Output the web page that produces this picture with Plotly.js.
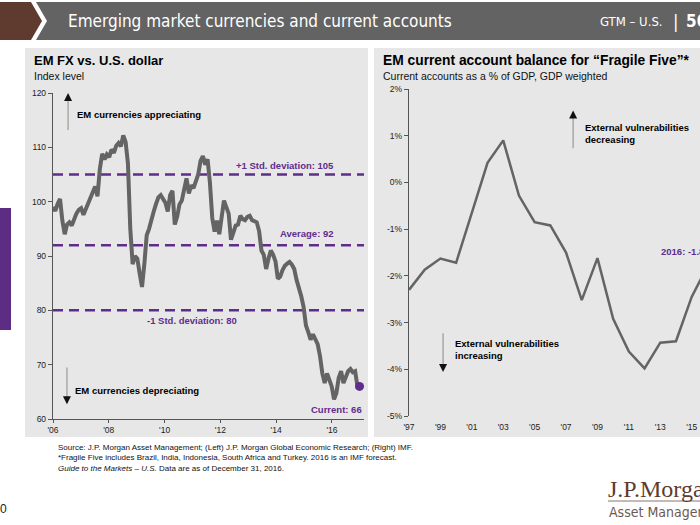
<!DOCTYPE html>
<html>
<head>
<meta charset="utf-8">
<script src="https://cdn.plot.ly/plotly-3.0.1.min.js"></script>
<style>
html,body{margin:0;padding:0;background:#fff;overflow:hidden;}
#chart{width:700px;height:525px;}
</style>
</head>
<body>
<div id="chart"></div>
<script>
// ---------------- DATA ----------------
// Left: EM FX index vs U.S. dollar, monthly (Jan 2006 - Dec 2016)
const fxStartYear = 2006;
const fx2006 = [99.0, 98.3, 99.6, 100.5, 96.5, 94.0, 95.8, 96.2, 95.6, 96.8, 97.8, 98.5];
const fx2007 = [98.8, 97.6, 98.6, 99.8, 100.6, 101.5, 102.8, 101.0, 106.0, 108.8, 107.8, 108.7];
const fx2008 = [108.2, 109.6, 109.0, 110.3, 110.8, 110.2, 112.2, 111.0, 107.0, 95.0, 88.5, 90.0];
const fx2009 = [89.5, 86.8, 84.3, 88.5, 93.8, 95.0, 97.0, 98.2, 99.6, 100.8, 101.2, 100.4];
const fx2010 = [99.8, 98.2, 101.2, 102.0, 95.8, 97.2, 99.5, 100.2, 102.8, 104.3, 101.5, 103.0];
const fx2011 = [102.5, 103.8, 105.0, 107.5, 108.4, 106.8, 107.8, 103.5, 97.0, 94.5, 96.5, 94.0];
const fx2012 = [97.5, 100.2, 99.0, 97.8, 93.0, 94.2, 95.6, 95.8, 97.4, 96.8, 96.6, 97.2];
const fx2013 = [97.4, 96.6, 96.4, 96.2, 94.6, 91.0, 90.2, 87.6, 89.5, 91.0, 90.2, 89.0];
const fx2014 = [85.8, 86.2, 87.4, 88.2, 88.6, 88.9, 88.4, 87.6, 85.6, 84.2, 82.6, 80.6];
const fx2015 = [77.2, 76.0, 74.6, 75.6, 74.6, 73.8, 71.6, 68.4, 66.6, 68.4, 67.2, 66.0];
const fx2016 = [63.6, 64.8, 67.6, 68.8, 66.6, 67.8, 68.8, 69.2, 68.6, 68.8, 66.0, 66.2];
const fxCurrentDate = 2016.99;
const fxCurrent = 66;
const fxBands = [105, 92, 80];
const fxBandLabels = ["+1 Std. deviation: 105", "Average: 92", "-1 Std. deviation: 80"];
const fxTickVals = [2006, 2008, 2010, 2012, 2014, 2016];
const fxTickText = ["'06", "'08", "'10", "'12", "'14", "'16"];
const fxYTicks = [60, 70, 80, 90, 100, 110, 120];

// Right: Fragile Five current account balance, % of GDP
const caYears = [1997, 1998, 1999, 2000, 2001, 2002, 2003, 2004, 2005, 2006, 2007, 2008, 2009, 2010, 2011, 2012, 2013, 2014, 2015, 2016];
const caValues = [-2.3, -1.87, -1.63, -1.72, -0.65, 0.42, 0.9, -0.28, -0.85, -0.92, -1.5, -2.52, -1.62, -2.92, -3.62, -3.98, -3.43, -3.4, -2.45, -1.8];
const caTickVals = [1997, 1999, 2001, 2003, 2005, 2007, 2009, 2011, 2013, 2015];
const caTickText = ["'97", "'99", "'01", "'03", "'05", "'07", "'09", "'11", "'13", "'15"];
const caYTicks = [-5, -4, -3, -2, -1, 0, 1, 2];
const caYTickText = ["-5%", "-4%", "-3%", "-2%", "-1%", "0%", "1%", "2%"];

// ---------------- BUILD ----------------
const fxValues = [].concat(fx2006, fx2007, fx2008, fx2009, fx2010, fx2011, fx2012, fx2013, fx2014, fx2015, fx2016);
const fxDates = fxValues.map((v, i) => fxStartYear + i * (11 / (fxValues.length - 1)));

const W = 700, H = 525;
const P = x => x / W;
const Q = y => 1 - y / H;

const PURPLE = '#5f2d8c';
const FONT = 'Arial, "Liberation Sans", sans-serif';
const NARROW = '"Liberation Sans Narrow", "DejaVu Sans Condensed", "Roboto Condensed", sans-serif';

const leftDom = [P(53), P(364)];
const leftYDom = [Q(419), Q(93)];
const rightDom = [P(409), 1];
const rightYDom = [Q(416), Q(89)];
const fxRange = [2006, 2017.15];
const caRange = [1997, 2015.53];
const caYRange = [-5, 2];
const zeroPos = rightYDom[0] + (0 - caYRange[0]) / (caYRange[1] - caYRange[0]) * (rightYDom[1] - rightYDom[0]);

const traces = [
  {x: fxDates, y: fxValues, type: 'scatter', mode: 'lines', xaxis: 'x', yaxis: 'y',
   line: {color: '#646464', width: 4}, hoverinfo: 'skip'},
  {x: [fxCurrentDate], y: [fxCurrent], type: 'scatter', mode: 'markers', xaxis: 'x', yaxis: 'y',
   marker: {color: PURPLE, size: 9}, hoverinfo: 'skip'},
  {x: caYears, y: caValues, type: 'scatter', mode: 'lines', xaxis: 'x2', yaxis: 'y2',
   line: {color: '#646464', width: 2.5}, hoverinfo: 'skip', cliponaxis: true}
];

const shapes = [
  // header
  {type: 'path', xref: 'paper', yref: 'paper', layer: 'below',
   path: `M ${P(0)},${Q(2)} L ${P(31)},${Q(2)} L ${P(42)},${Q(21)} L ${P(31)},${Q(40)} L ${P(0)},${Q(40)} Z`,
   fillcolor: '#5e3b2e', line: {width: 0}},
  {type: 'path', xref: 'paper', yref: 'paper', layer: 'below',
   path: `M ${P(36)},${Q(2)} L ${P(700)},${Q(2)} L ${P(700)},${Q(40)} L ${P(36)},${Q(40)} L ${P(47)},${Q(21)} Z`,
   fillcolor: '#636363', line: {width: 0}},
  // side bar
  {type: 'rect', xref: 'paper', yref: 'paper', layer: 'below',
   x0: P(0), x1: P(11), y0: Q(330), y1: Q(208), fillcolor: '#5c2d83', line: {width: 0}},
  // panels
  {type: 'rect', xref: 'paper', yref: 'paper', layer: 'below',
   x0: P(25), x1: P(368), y0: Q(437), y1: Q(48), fillcolor: '#e7e7e7', line: {width: 0}},
  {type: 'rect', xref: 'paper', yref: 'paper', layer: 'below',
   x0: P(374), x1: P(700), y0: Q(437), y1: Q(48), fillcolor: '#e7e7e7', line: {width: 0}},
  // logo underline
  {type: 'line', xref: 'paper', yref: 'paper', x0: P(608), x1: P(700), y0: Q(501), y1: Q(501),
   line: {color: '#8a7468', width: 1}}
];
fxBands.forEach(b => shapes.push({type: 'line', xref: 'x', yref: 'y', x0: fxRange[0], x1: fxRange[1], y0: b, y1: b,
  line: {color: PURPLE, width: 2.5, dash: '10px,6px'}, layer: 'below'}));
// arrow shafts
shapes.push({type: 'line', xref: 'x', yref: 'y', x0: 2006.54, x1: 2006.54, y0: 113.2, y1: 119, line: {color: '#999', width: 1.2}});
shapes.push({type: 'line', xref: 'x', yref: 'y', x0: 2006.5, x1: 2006.5, y0: 69.5, y1: 63.8, line: {color: '#999', width: 1.2}});
shapes.push({type: 'line', xref: 'x2', yref: 'y2', x0: 2007.45, x1: 2007.45, y0: 0.73, y1: 1.42, line: {color: '#999', width: 1.2}});
shapes.push({type: 'line', xref: 'x2', yref: 'y2', x0: 1999.17, x1: 1999.17, y0: -3.23, y1: -3.94, line: {color: '#999', width: 1.2}});

const ann = [];
function txt(text, xpx, ypx, opts) {
  ann.push(Object.assign({text: text, xref: 'paper', yref: 'paper', x: P(xpx), y: Q(ypx),
    xanchor: 'left', yanchor: 'middle', showarrow: false,
    font: {family: FONT, size: 11, color: '#000'}}, opts || {}));
}
function head(xref, yref, x, y, ay) {
  ann.push({text: '', xref: xref, yref: yref, x: x, y: y, ax: 0, ay: ay, showarrow: true,
    arrowhead: 2, arrowsize: 1, arrowwidth: 1.6, arrowcolor: '#111', standoff: 0});
}
// header
txt('Emerging market currencies and current accounts', 66, 21, {font: {family: NARROW, size: 17, color: '#fff'}});
txt('GTM – U.S.', 598, 22, {font: {family: NARROW, size: 13, color: '#fff'}});
txt('|', 671, 21, {font: {family: NARROW, size: 18, color: '#fff'}});
txt('50', 684, 21, {font: {family: NARROW, size: 17, color: '#fff', weight: 'bold'}});
// panel titles
txt('<b>EM FX vs. U.S. dollar</b>', 32, 60, {font: {family: FONT, size: 13, color: '#000'}});
txt('Index level', 32, 75.5, {font: {family: FONT, size: 10.5, color: '#111'}});
txt('<b>EM current account balance for “Fragile Five”*</b>', 381, 60, {font: {family: FONT, size: 13.8, color: '#000'}});
txt('Current accounts as a % of GDP, GDP weighted', 381, 75.5, {font: {family: FONT, size: 10.5, color: '#111'}});
// footer
txt('Source: J.P. Morgan Asset Management; (Left) J.P. Morgan Global Economic Research; (Right) IMF.', 56, 447, {font: {family: FONT, size: 8, color: '#111'}});
txt('*Fragile Five includes Brazil, India, Indonesia, South Africa and Turkey. 2016 is an IMF forecast.', 56, 457.5, {font: {family: FONT, size: 8, color: '#111'}});
txt('<i>Guide to the Markets – U.S.</i> Data are as of December 31, 2016.', 56, 468, {font: {family: FONT, size: 8, color: '#111'}});
// logo
txt('J.P.Morgan', 606, 489, {font: {family: '"Liberation Serif", "Times New Roman", serif', size: 24, color: '#5e3b2e'}});
txt('Asset Management', 607, 512, {font: {family: NARROW, size: 14, color: '#6d5a50'}});
txt('0', -2, 509, {font: {family: FONT, size: 12, color: '#222'}});

// left chart annotations
const bandLbl = {font: {family: FONT, size: 9.5, color: PURPLE}, showarrow: false, xref: 'x', yref: 'y', yanchor: 'middle'};
ann.push(Object.assign({}, bandLbl, {text: '<b>' + fxBandLabels[0] + '</b>', x: 2016.14, y: 106.65, xanchor: 'right'}));
ann.push(Object.assign({}, bandLbl, {text: '<b>' + fxBandLabels[1] + '</b>', x: 2016.14, y: 94.1, xanchor: 'right'}));
ann.push(Object.assign({}, bandLbl, {text: '<b>' + fxBandLabels[2] + '</b>', x: 2011.0, y: 78.2, xanchor: 'center'}));
ann.push(Object.assign({}, bandLbl, {text: '<b>Current: ' + fxCurrent + '</b>', x: 2017.15, y: 61.8, xanchor: 'right'}));
const blk = {font: {family: FONT, size: 9.5, color: '#000'}, showarrow: false, yanchor: 'middle', xanchor: 'left', align: 'left'};
ann.push(Object.assign({}, blk, {text: '<b>EM currencies appreciating</b>', xref: 'x', yref: 'y', x: 2006.78, y: 116.1}));
ann.push(Object.assign({}, blk, {text: '<b>EM currencies depreciating</b>', xref: 'x', yref: 'y', x: 2006.72, y: 65.3}));
ann.push(Object.assign({}, blk, {text: '<b>External vulnerabilities<br>decreasing</b>', xref: 'x2', yref: 'y2', x: 2008.05, y: 1.04}));
ann.push(Object.assign({}, blk, {text: '<b>External vulnerabilities<br>increasing</b>', xref: 'x2', yref: 'y2', x: 1999.8, y: -3.57}));
ann.push({text: '<b>2016: ' + caValues[caValues.length - 1] + '%</b>', xref: 'x2', yref: 'y2', x: 2012.95, y: -1.47,
  xanchor: 'left', yanchor: 'middle', showarrow: false, font: {family: FONT, size: 9.5, color: PURPLE}});
head('x', 'y', 2006.54, 120, 9);
head('x', 'y', 2006.5, 62.7, -9);
head('x2', 'y2', 2007.45, 1.54, 9);
head('x2', 'y2', 1999.17, -4.06, -9);

const tickFont = {family: FONT, size: 8.5, color: '#222'};
const layout = {
  width: W, height: H, margin: {l: 0, r: 0, t: 0, b: 0},
  paper_bgcolor: '#ffffff', plot_bgcolor: '#e7e7e7', showlegend: false,
  xaxis: {domain: leftDom, range: fxRange, anchor: 'y', tickvals: fxTickVals, ticktext: fxTickText,
    ticks: 'outside', ticklen: 3, tickcolor: '#555', showline: true, linecolor: '#555', linewidth: 1,
    showgrid: false, zeroline: false, tickfont: tickFont, fixedrange: true},
  yaxis: {domain: leftYDom, range: [60, 120], anchor: 'x', tickvals: fxYTicks,
    ticks: 'outside', ticklen: 4, tickcolor: '#555', showline: true, linecolor: '#555', linewidth: 1.2,
    showgrid: false, zeroline: false, tickfont: tickFont, fixedrange: true},
  xaxis2: {domain: rightDom, range: caRange, anchor: 'y2', tickvals: caTickVals, ticktext: caTickText,
    ticks: 'outside', ticklen: 3, tickcolor: 'rgba(0,0,0,0)', showline: false,
    showgrid: false, zeroline: false, tickfont: tickFont, fixedrange: true},
  xaxis3: {domain: rightDom, range: caRange, anchor: 'free', position: zeroPos, overlaying: 'x2',
    tickvals: caTickVals, showticklabels: false, ticks: 'outside', ticklen: 4, tickcolor: '#222',
    showline: true, linecolor: '#111', linewidth: 1, showgrid: false, zeroline: false, fixedrange: true},
  yaxis2: {domain: rightYDom, range: caYRange, anchor: 'x2', tickvals: caYTicks, ticktext: caYTickText,
    ticks: 'outside', ticklen: 4, tickcolor: '#555', showline: true, linecolor: '#555', linewidth: 1.2,
    showgrid: false, zeroline: false, tickfont: tickFont, fixedrange: true},
  shapes: shapes, annotations: ann
};
Plotly.newPlot('chart', traces, layout, {staticPlot: true, displayModeBar: false});
</script>
</body>
</html>
